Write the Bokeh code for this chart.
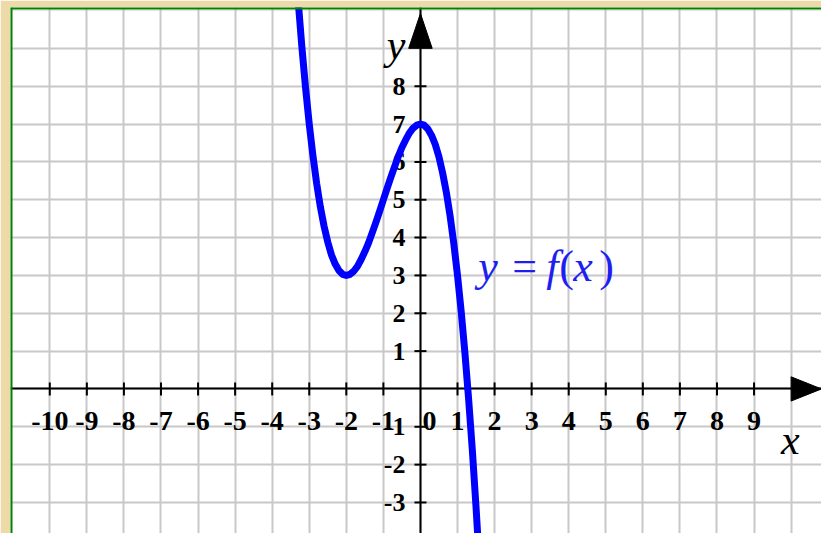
from math import pi
from bokeh.plotting import figure
from bokeh.models import Span, Grid, FixedTicker, Range1d
from bokeh.core.properties import value
from bokeh.embed import file_html
from bokeh.resources import INLINE

# ---- data ----
curve_x = [-3.3, -3.2, -3.1, -3.0, -2.9, -2.8, -2.7, -2.6, -2.5, -2.4, -2.3, -2.2, -2.1,
           -2.0, -1.9, -1.8, -1.7, -1.6, -1.5, -1.4, -1.3, -1.2, -1.1, -1.0, -0.9, -0.8,
           -0.7, -0.6, -0.5, -0.4, -0.3, -0.2, -0.1, 0.0, 0.1, 0.2, 0.3, 0.4, 0.5, 0.6,
           0.7, 0.8, 0.9, 1.0, 1.1, 1.2, 1.3, 1.4, 1.5, 1.6]
curve_y = [10.27, 9.05, 7.96, 7.0, 6.16, 5.43, 4.81, 4.30, 3.88, 3.54, 3.30, 3.13, 3.03,
           3.0, 3.03, 3.11, 3.24, 3.42, 3.63, 3.86, 4.13, 4.41, 4.70, 5.0, 5.30, 5.59,
           5.87, 6.14, 6.38, 6.58, 6.76, 6.89, 6.97, 7.0, 6.97, 6.87, 6.70, 6.46, 6.13, 5.70,
           5.19, 4.57, 3.84, 3.0, 2.04, 0.95, -0.27, -1.62, -3.13, -4.78]

x_ticks = [-10, -9, -8, -7, -6, -5, -4, -3, -2, -1, 1, 2, 3, 4, 5, 6, 7, 8, 9]
x_tick_labels = ["-10", "-9", "-8", "-7", "-6", "-5", "-4", "-3", "-2", "-1",
                 "1", "2", "3", "4", "5", "6", "7", "8", "9"]
y_ticks = [-3, -2, -1, 1, 2, 3, 4, 5, 6, 7, 8]
y_tick_labels = ["-3", "-2", "-1", "1", "2", "3", "4", "5", "6", "7", "8"]
origin_label = "0"
x_name = "x"
y_name = "y"
func_italic = ["y", "f", "x"]
func_plain = ["=", "(", ")"]

# ---- figure ----
X_MIN, X_MAX = -11.06, 10.82
Y_MIN, Y_MAX = -3.82, 10.08
UX = 37.8   # reference px per x unit
UY = 39.0   # reference px per y unit

p = figure(width=821, height=533, output_backend="svg", toolbar_location=None,
           x_range=Range1d(X_MIN, X_MAX), y_range=Range1d(Y_MIN, Y_MAX),
           x_axis_location=None, y_axis_location=None,
           min_border_left=10, min_border_top=7, min_border_right=0, min_border_bottom=0,
           background_fill_color="white", border_fill_color="#EDDAA8",
           outline_line_color=None)

p.add_layout(Grid(dimension=0, ticker=FixedTicker(ticks=list(range(-10, 11))),
                  grid_line_color="#C8C8C8", grid_line_width=2))
p.add_layout(Grid(dimension=1, ticker=FixedTicker(ticks=list(range(-3, 10))),
                  grid_line_color="#C8C8C8", grid_line_width=2))

# axes lines
p.hspan(y=[0], line_color="black", line_width=2)
p.vspan(x=[0], line_color="black", line_width=2)

# tick marks
p.scatter(x=x_ticks, y=[0] * len(x_ticks), marker="dash", size=13, angle=pi / 2,
          line_color="black", line_width=2)
p.scatter(x=[0] * len(y_ticks), y=y_ticks, marker="dash", size=12,
          line_color="black", line_width=2)

FONT = value("Liberation Serif")
p.text(x=x_ticks, y=[0] * len(x_ticks), text=x_tick_labels, text_align="center",
       text_baseline="middle", y_offset=32, text_font=FONT, text_font_style="bold",
       text_font_size="28px", text_color="black")
p.text(x=[0], y=[0], text=[origin_label], text_align="center", text_baseline="middle",
       x_offset=9, y_offset=32, text_font=FONT, text_font_style="bold",
       text_font_size="28px", text_color="black")
p.text(x=[0] * len(y_ticks), y=y_ticks, text=y_tick_labels, text_align="right",
       text_baseline="middle", x_offset=-15, text_font=FONT, text_font_style="bold",
       text_font_size="26px", text_color="black")

# arrow heads
p.patch(x=[-12 / UX, 0, 12 / UX], y=[9, 9 + 36 / UY, 9], color="black")
p.patch(x=[10, 10 + 31 / UX, 10], y=[-12.5 / UY, 0, 12.5 / UY], color="black")

# curve
p.line(x=curve_x, y=curve_y, line_color="#0000FF", line_width=7,
       line_join="round", line_cap="round")

# function label
FX, FY = 1.56, 3.23
p.text(x=[FX] * 3, y=[FY] * 3, text=func_italic, x_offset=[0, 68, 95],
       text_align="left", text_baseline="alphabetic", text_font=FONT,
       text_font_style="italic", text_font_size="44px", text_color="#1E1EF0")
p.text(x=[FX] * 3, y=[FY] * 3, text=func_plain, x_offset=[34, 81, 121],
       text_align="left", text_baseline="alphabetic", text_font=FONT,
       text_font_style="normal", text_font_size="44px", text_color="#1E1EF0")

# axis names
p.text(x=[0], y=[9], text=[y_name], text_align="right", text_baseline="alphabetic",
       x_offset=-15, y_offset=-3, text_font=FONT, text_font_style="italic",
       text_font_size="42px", text_color="black")
p.text(x=[10], y=[0], text=[x_name], text_align="left", text_baseline="alphabetic",
       x_offset=-10, y_offset=51, text_font=FONT, text_font_style="italic",
       text_font_size="42px", text_color="black")

# green frame border (left and top)
p.add_layout(Span(location=X_MIN, dimension="height", line_color="#008000",
                  line_width=4, level="overlay"))
p.add_layout(Span(location=Y_MAX, dimension="width", line_color="#008000",
                  line_width=4, level="overlay"))

open("out.html", "w").write(file_html(p, INLINE))
